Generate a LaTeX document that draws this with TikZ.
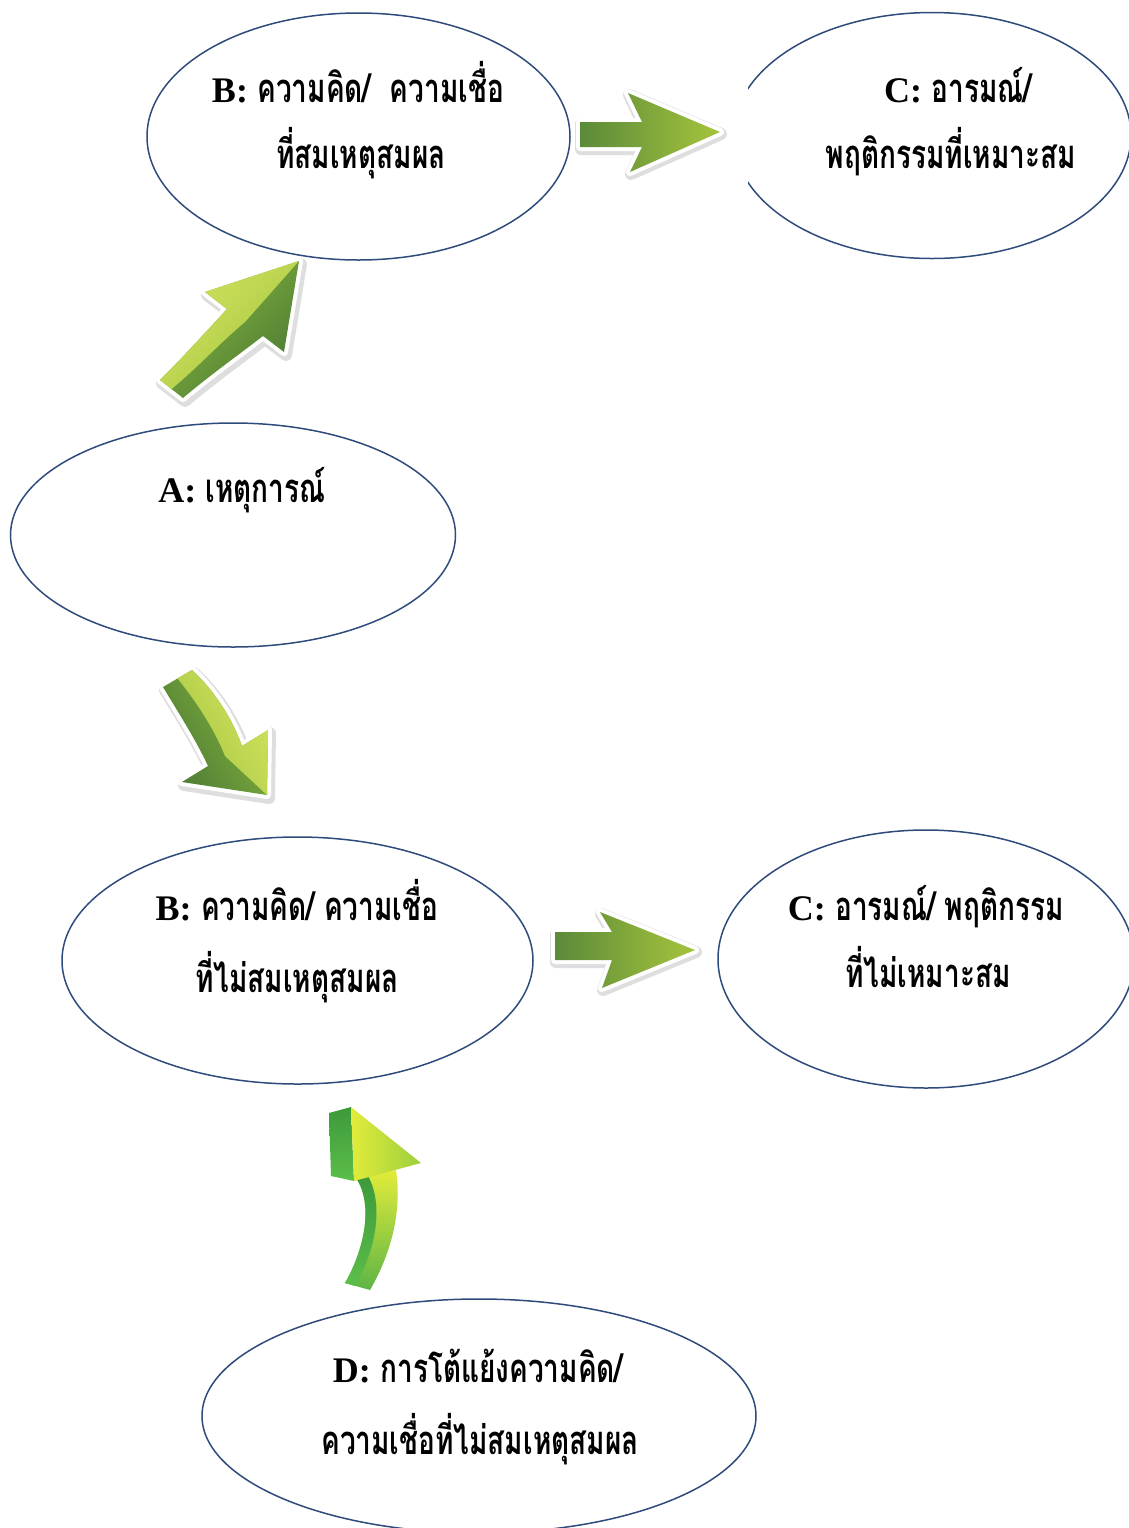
\documentclass[tikz,border=0pt]{standalone}
\usepackage{fontspec}
\newfontfamily\thaifont[Script=Thai, FakeStretch=0.70]{Loma}
\newfontfamily\latfont{Liberation Serif}
\usetikzlibrary{shapes.geometric}

\definecolor{rim}{HTML}{2E4B7C}
\definecolor{olvD}{HTML}{5B8A3A}
\definecolor{olvL}{HTML}{A5C43C}
\definecolor{lfTop}{HTML}{A8C845}
\definecolor{lfBot}{HTML}{D0E25C}
\definecolor{dkTop}{HTML}{4E7C35}
\definecolor{dkBot}{HTML}{86B63E}
\definecolor{a5yel}{HTML}{E2EC3A}
\definecolor{a5grn}{HTML}{5DB545}
\definecolor{a5side}{HTML}{3C9A3A}
\definecolor{a5sideL}{HTML}{5CBE4A}
\definecolor{a5tip}{HTML}{9CCF3E}

\newcommand\lat[1]{{\latfont\fontsize{18}{20}\selectfont #1}}

\tikzset{
  ell/.style={ellipse, draw=rim, line width=0.75pt, inner sep=0pt},
  txt/.style={font=\thaifont\bfseries\fontsize{20}{24}\selectfont, inner sep=0pt, anchor=base},
  glow/.style={draw=black!13, line width=6pt, line join=round},
  rimline/.style={draw=white, line width=4pt, line join=round},
}

% outlines of the clip-art arrows (coordinates in px, y downwards)
\def\pathA{(580,122) -- (642,122) -- (628,93) -- (720,132) -- (630,172) -- (642,147) -- (580,147) -- cycle}
\def\pathB{(555,932) -- (612,932) -- (600,912) -- (695,950) -- (602,988) -- (612,960) -- (555,960) -- cycle}
\def\pathC{(299,261) -- (205,292) -- (227,309) .. controls (205,333) and (183,357) .. (160,380) -- (183,398) .. controls (209,376) and (237,356) .. (263,336) -- (284,352) -- cycle}
\def\pathCl{(299,261) -- (205,292) -- (227,309) .. controls (205,333) and (183,357) .. (160,380) -- (171.5,389) .. controls (196,369) and (222,341) .. (245,322) -- cycle}
\def\pathD{(163,687) -- (192,670) .. controls (214,690) and (232,718) .. (242,746) -- (268,730) -- (267,795) -- (182,782) -- (208,766) .. controls (196,740) and (178,712) .. (163,687) -- cycle}
\def\pathDl{(177.5,678.5) -- (192,670) .. controls (214,690) and (232,718) .. (242,746) -- (268,730) -- (267,795) -- (225,756) .. controls (214,728) and (195,700) .. (177.5,678.5) -- cycle}

\begin{document}
\begin{tikzpicture}[x=0.5pt,y=-0.5pt]
\useasboundingbox (0,0) rectangle (1129,1528);
\clip (0,0) rectangle (1129,1528);

% the six ellipses
\node[ell, minimum width=211.5pt, minimum height=123.5pt] (Bok) at (358.5,136.5) {};
\node[ell, minimum width=199pt, minimum height=123pt] (Cok) at (932,135.5) {};
\node[ell, minimum width=222.5pt, minimum height=112pt] (A) at (233,535) {};
\node[ell, minimum width=235.5pt, minimum height=123.5pt] (Bbad) at (297.5,960.5) {};
\node[ell, minimum width=208pt, minimum height=129pt] (Cbad) at (926,959) {};
\node[ell, minimum width=277pt, minimum height=117pt] (D) at (479,1416) {};

% labels
\node[txt] (tB1) at (358,102) {\lat{B:} ความคิด/\ \ ความเชื่อ};
\node[txt] (tB2) at (361,168) {ที่สมเหตุสมผล};
\node[txt] (tC1) at (958,102) {\lat{C:} อารมณ์/};
\node[txt] (tC2) at (951,168) {พฤติกรรมที่เหมาะสม};
\node[txt] (tA) at (242,502) {\lat{A:} เหตุการณ์};
\node[txt] (tB3) at (297,920) {\lat{B:} ความคิด/ ความเชื่อ};
\node[txt] (tB4) at (297,992) {ที่ไม่สมเหตุสมผล};
\node[txt] (tC3) at (926,920) {\lat{C:} อารมณ์/ พฤติกรรม};
\node[txt] (tC4) at (928,987) {ที่ไม่เหมาะสม};
\node[txt] (tD1) at (478,1382) {\lat{D:} การโต้แย้งความคิด/};
\node[txt] (tD2) at (480,1454) {ความเชื่อที่ไม่สมเหตุสมผล};

% straight arrow B -> C (rational)
\fill[white] (574,84) rectangle (748,184);
\draw[glow, shift={(1,2)}] \pathA;
\draw[rimline] \pathA;
\shade[left color=olvD, right color=olvL] \pathA;

% straight arrow B -> C (irrational)
\draw[glow, shift={(1,2)}] \pathB;
\draw[rimline] \pathB;
\shade[left color=olvD, right color=olvL] \pathB;

% curved arrow A -> B (up)
\draw[glow, shift={(2,3)}] \pathC;
\draw[rimline] \pathC;
\shade[left color=dkBot, right color=dkTop, shading angle=45] \pathC;
\shade[left color=lfBot, right color=lfTop, shading angle=45] \pathCl;

% curved arrow A -> B (down)
\draw[glow, shift={(2,3)}] \pathD;
\draw[rimline] \pathD;
\shade[left color=dkBot, right color=dkTop, shading angle=-60] \pathD;
\shade[left color=lfBot, right color=lfTop, shading angle=-60] \pathDl;

% 3-D arrow D -> B
\shade[top color=a5yel, bottom color=a5grn]
  (356,1178) .. controls (374,1205) and (364,1250) .. (345,1283) -- (370,1290)
  .. controls (392,1252) and (402,1210) .. (396,1170) -- cycle;
\shade[top color=a5side, bottom color=a5sideL]
  (356,1178) .. controls (374,1205) and (364,1250) .. (345,1283) -- (355,1286)
  .. controls (376,1250) and (384,1205) .. (368,1176) -- cycle;
\shade[top color=a5side, bottom color=a5sideL] (329,1113) -- (351,1107) -- (354,1181) -- (331,1176) -- cycle;
\shade[left color=a5yel, right color=a5tip] (351,1107) -- (421,1163) -- (354,1181) -- cycle;
\end{tikzpicture}
\end{document}
